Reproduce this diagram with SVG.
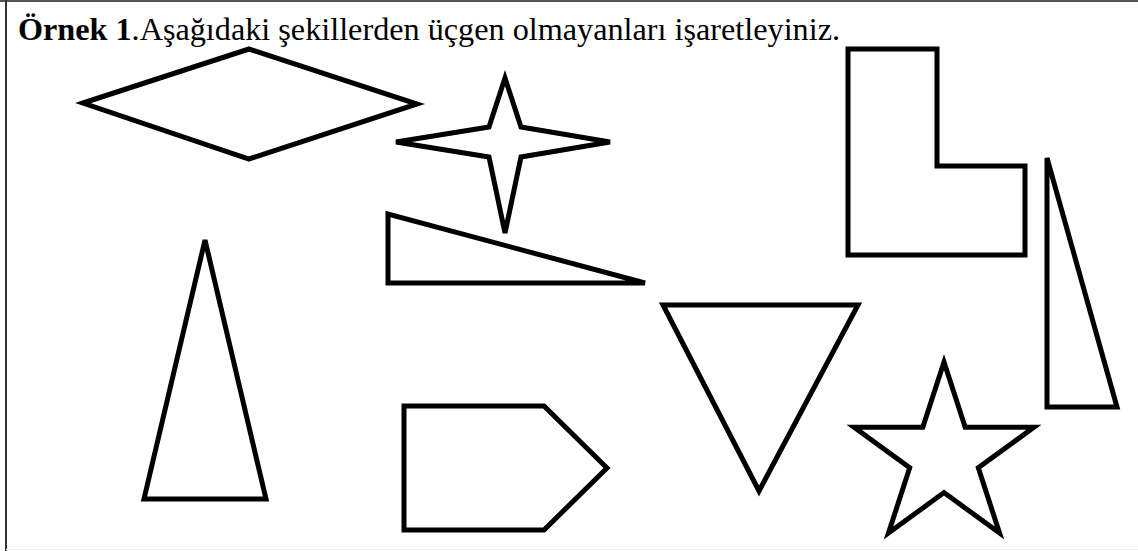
<svg xmlns="http://www.w3.org/2000/svg" width="1138" height="551" viewBox="0 0 1138 551">
<style>
.s{fill:none;stroke:#000;stroke-width:5;stroke-linejoin:miter;stroke-miterlimit:4}
.t{font-family:"Liberation Serif","Times New Roman",serif;font-size:32px;fill:#000}
</style>
<rect width="1138" height="551" fill="#fff"/>
<line x1="0" y1="1" x2="1138" y2="1" stroke="#555" stroke-width="2"/>
<line x1="6" y1="0" x2="6" y2="551" stroke="#333" stroke-width="2"/>
<line x1="6" y1="549.5" x2="1138" y2="549.5" stroke="#eee" stroke-width="1"/>
<g id="title">
<text class="t" x="18" y="40" textLength="822" lengthAdjust="spacingAndGlyphs"><tspan font-weight="bold">Örnek 1</tspan>.Aşağıdaki şekillerden üçgen olmayanları işaretleyiniz.</text>
</g>
<g id="rhombus"><polygon class="s" points="83,103 249,49 417,104 249,159"/></g>
<g id="star4"><polygon class="s" points="505,78 521,127 610,142 521,157 505,233 489,157 396,142 489,127"/></g>
<g id="right-triangle"><polygon class="s" points="388,214 388,283 645,283"/></g>
<g id="tall-triangle"><polygon class="s" points="205,240 266,499 144,499"/></g>
<g id="pentagon"><polygon class="s" points="404,406 544,406 607,468 544,530 404,530"/></g>
<g id="inverted-triangle"><polygon class="s" points="663,305 858,305 759,491"/></g>
<g id="l-shape"><polygon class="s" points="848,49 937,49 937,166 1025,166 1025,255 848,255"/></g>
<g id="thin-triangle"><polygon class="s" points="1047,158 1117,407 1047,407"/></g>
<g id="star5"><polygon class="s" points="944,362 965.2,427.3 1033.9,427.3 978.3,467.7 999.5,533 944,492.6 888.5,533 909.7,467.7 854.1,427.3 922.8,427.3"/></g>
<g id="connectors"/>
</svg>
